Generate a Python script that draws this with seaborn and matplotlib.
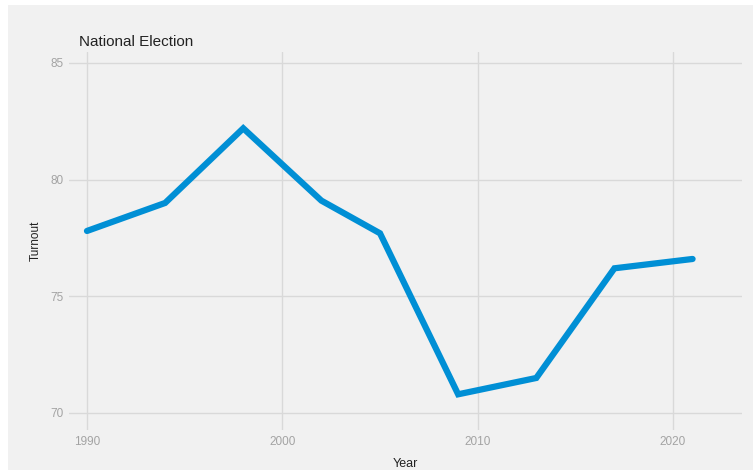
import matplotlib
matplotlib.use("Agg")
import matplotlib.pyplot as plt
import seaborn as sns
import pandas as pd
from matplotlib.patches import Rectangle

years = [1990, 1994, 1998, 2002, 2005, 2009, 2013, 2017, 2021]
turnout = [77.8, 79.0, 82.2, 79.1, 77.7, 70.8, 71.5, 76.2, 76.6]
x_ticks = [1990, 2000, 2010, 2020]
y_ticks = [70, 75, 80, 85]
title = "National Election"

df = pd.DataFrame({"Year": years, "Turnout": turnout})

sns.set_theme(style="whitegrid")
plt.rcParams["font.family"] = ["Liberation Sans", "DejaVu Sans"]

bg = "#f1f1f1"
fig = plt.figure(figsize=(7.53, 4.70), dpi=100, facecolor=bg)
ax = fig.add_axes([69 / 753, 1 - 430 / 470, (742 - 69) / 753, (430 - 52) / 470])
ax.set_facecolor(bg)

sns.lineplot(data=df, x="Year", y="Turnout", ax=ax, color="#008fd5",
             linewidth=4.5, solid_capstyle="round", solid_joinstyle="miter")

ax.set_xlim(1989.08, 2023.53)
ax.set_ylim(69.27, 85.47)
ax.set_xticks(x_ticks)
ax.set_yticks(y_ticks)
ax.grid(True, color="#d9d9d9", linewidth=1.0)
for s in ax.spines.values():
    s.set_visible(False)
ax.tick_params(axis="both", length=0, labelsize=8.5, labelcolor="#a3a3a3", pad=4)

ax.set_xlabel("Year", fontsize=9, color="#222222")
ax.set_ylabel("Turnout", fontsize=8.5, color="#222222")
ax.xaxis.set_label_coords(0.5, -0.074)
ax.yaxis.set_label_coords(-0.041, 0.5)

fig.text(79 / 753, 1 - 46 / 470, title, fontsize=11, color="#222222",
         ha="left", va="baseline")

# white border strips of the original screenshot
fig.patches.append(Rectangle((0, 1 - 5 / 470), 1, 5 / 470, transform=fig.transFigure,
                             facecolor="white", edgecolor="none", zorder=-1))
fig.patches.append(Rectangle((0, 0), 8 / 753, 1, transform=fig.transFigure,
                             facecolor="white", edgecolor="none", zorder=-1))

fig.savefig("out.png", dpi=100, facecolor=bg)
